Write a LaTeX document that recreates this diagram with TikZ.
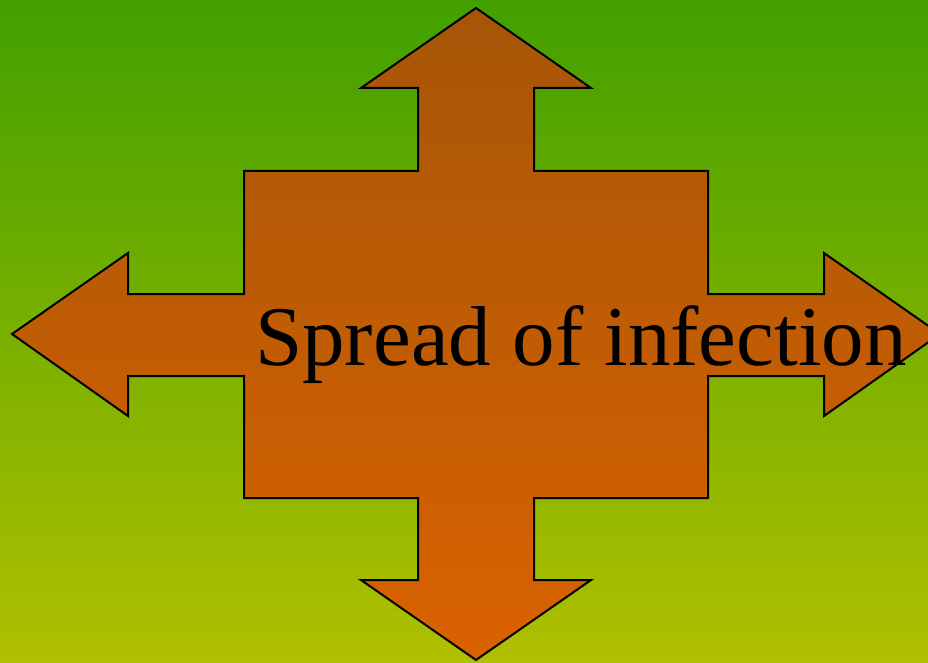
\documentclass[tikz,border=0pt]{standalone}
\usepackage{fontspec}
\setmainfont{Liberation Serif}
\usepackage{tikz}
\usetikzlibrary{positioning}

\definecolor{bgtop}{HTML}{42A000}
\definecolor{bgbottom}{HTML}{B0C000}
\definecolor{arrowtop}{HTML}{A65608}
\definecolor{arrowbottom}{HTML}{DA6200}

\begin{document}
\begin{tikzpicture}[x=1pt, y=-1pt,
   outline/.style={draw=black, line width=2pt, line join=miter},
   title/.style={anchor=base west, inner sep=0pt, font=\fontsize{85}{100}\selectfont}]
% background
\useasboundingbox (0,0) rectangle (928,663);
\clip (0,0) rectangle (928,663);
\shade[top color=bgtop, bottom color=bgbottom] (0,0) rectangle (928,663);

% four-way arrow
\shadedraw[top color=arrowtop, bottom color=arrowbottom, outline]
   (476,8) -- (591,88) -- (534,88) -- (534,171) -- (708,171) -- (708,294)
   -- (824,294) -- (824,253) -- (940,334) -- (824,416) -- (824,376) -- (708,376)
   -- (708,498) -- (534,498) -- (534,580) -- (591,580) -- (476,660) -- (361,580)
   -- (418,580) -- (418,498) -- (244,498) -- (244,376) -- (128,376) -- (128,416)
   -- (12,334) -- (128,253) -- (128,294) -- (244,294) -- (244,171) -- (418,171)
   -- (418,88) -- (361,88) -- cycle;

\node[title] (spread) at (255,365) {Spread of infection};
\end{tikzpicture}
\end{document}
